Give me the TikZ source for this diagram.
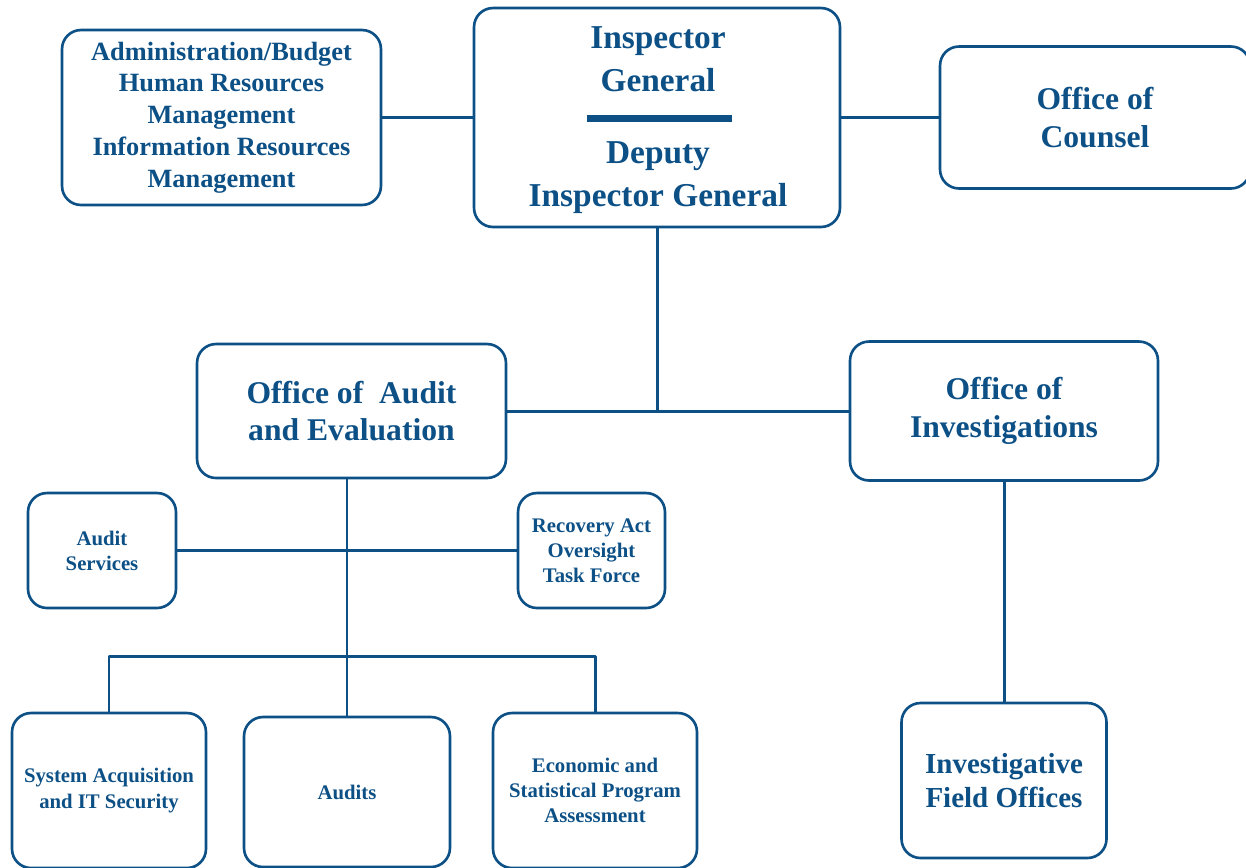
\documentclass[tikz,border=0pt]{standalone}
\usepackage{fontspec}
\setmainfont{Liberation Serif}
\definecolor{oigblue}{RGB}{12,80,134}

\begin{document}
\begin{tikzpicture}[line join=round,x=0.02cm,y=-0.02cm,
    unit/.style={draw=oigblue,line width=1.5pt,rounded corners=0.38cm,text=oigblue,align=center,inner sep=0pt},
    label/.style={text=oigblue,align=center,inner sep=0pt},
    link/.style={draw=oigblue,line width=1.7pt},
    bigtxt/.style={font=\bfseries\fontsize{19}{24.4}\selectfont},
    midtxt/.style={font=\bfseries\fontsize{18}{21.5}\selectfont},
    admtxt/.style={font=\bfseries\fontsize{15}{18.1}\selectfont},
    fldtxt/.style={font=\bfseries\fontsize{16.5}{19.8}\selectfont},
    smltxt/.style={font=\bfseries\fontsize{11.8}{14.3}\selectfont}]
            \useasboundingbox (0,0) rectangle (1246,867);
            \clip (0,0) rectangle (1246,867);
            % top row
            \node [unit,minimum width=7.32cm,minimum height=4.38cm] (ig) at (657,117.5) {};
            \node [label,bigtxt] (igtop) at (658,59.5) {Inspector\\General};
            \node [label,bigtxt] (igbot) at (658,178) {Deputy\\Inspector General};
            \draw [oigblue,line width=3.8pt] ([xshift=-1.4cm,yshift=-0.02cm]ig.center) -- ([xshift=1.5cm,yshift=-0.02cm]ig.center);
            \node [unit,admtxt,minimum width=6.38cm,minimum height=3.5cm] (adm) at (221.5,117.5) {Administration/Budget\\Human Resources\\Management\\Information Resources\\Management};
            \node [unit,midtxt,minimum width=6.2cm,minimum height=2.84cm] (coun) at (1095,117.5) {Office of\\Counsel};
            % offices
            \node [unit,midtxt,minimum width=6.18cm,minimum height=2.68cm] (audev) at (351.5,411) {Office of\ \ Audit\\and Evaluation};
            \node [unit,midtxt,minimum width=6.16cm,minimum height=2.78cm] (inv) at (1004,411) {Office of\\Investigations};
            \coordinate (tee) at (ig.south |- audev.east);
            \node [unit,smltxt,minimum width=2.96cm,minimum height=2.3cm] (svc) at (102,550.5) {Audit\\Services};
            \node [unit,smltxt,minimum width=2.94cm,minimum height=2.3cm] (rec) at (591.5,550.5) {Recovery Act\\Oversight\\Task Force};
            % bottom row
            \node [unit,smltxt,minimum width=3.88cm,minimum height=3.1cm] (sys) at (109,790.5) {System Acquisition\\and IT Security};
            \node [unit,smltxt,minimum width=4.12cm,minimum height=3.0cm] (aud) at (347,792) {Audits};
            \node [unit,smltxt,minimum width=4.08cm,minimum height=3.1cm] (econ) at (595,790.5) {Economic and\\Statistical Program\\Assessment};
            \node [unit,fldtxt,minimum width=4.1cm,minimum height=3.1cm] (fld) at (1004,780.5) {Investigative\\Field Offices};
            \coordinate (bus) at (347,656);
            % connectors
            \draw [link] (adm.east) -- (ig.west);
            \draw [link] (ig.east) -- (coun.west);
            \draw [link] (ig.south) -- (tee);
            \draw [link] (audev.east) -- (inv.west);
            \draw [link] (audev.south -| aud.north) -- (aud.north);
            \draw [link] (svc.east) -- (rec.west);
            \draw [link] (sys.north) |- (bus) -| (econ.north);
            \draw [link] (inv.south) -- (fld.north);
\end{tikzpicture}
\end{document}
